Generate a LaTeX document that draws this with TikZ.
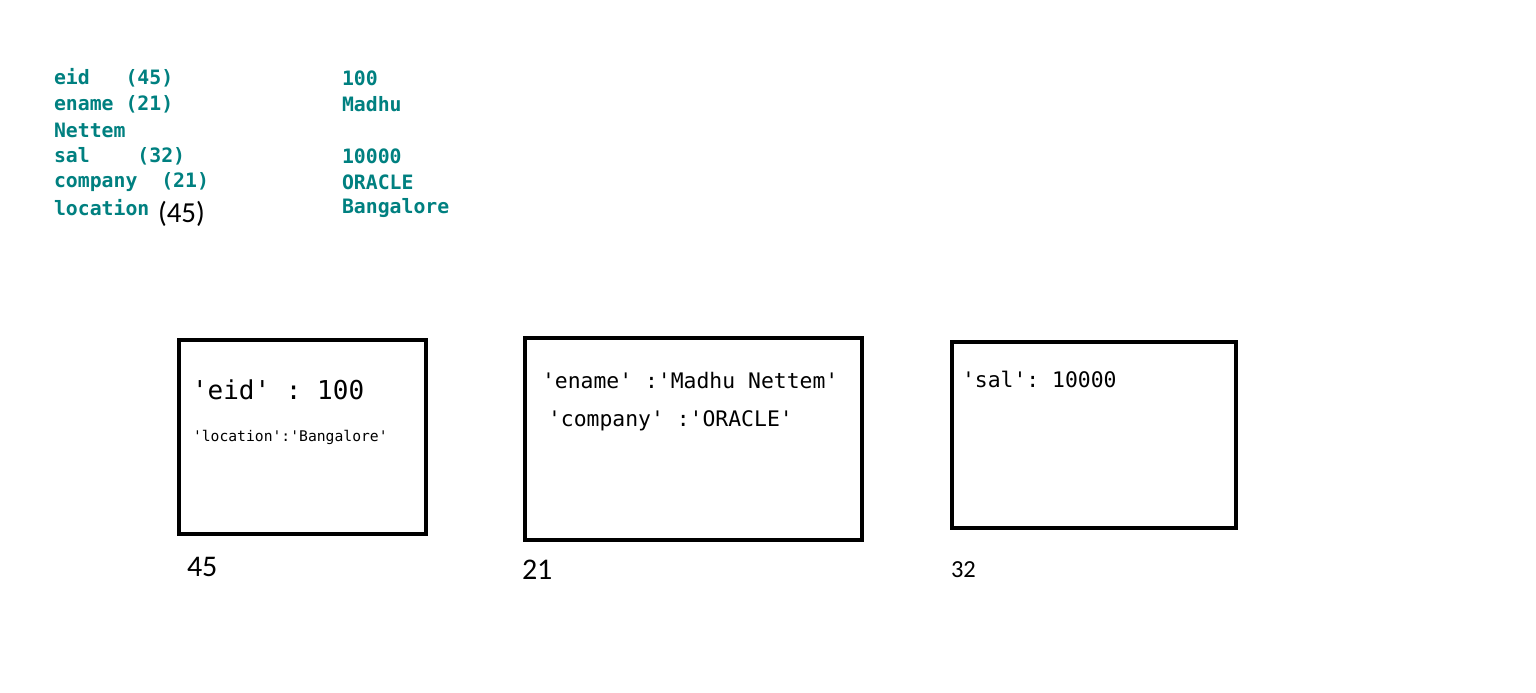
\documentclass[tikz,border=0pt]{standalone}
\usepackage{fontspec}
\setmonofont{DejaVu Sans Mono}
\newfontfamily\labfont{Carlito}
\definecolor{tealtext}{RGB}{0,128,128}
\tikzset{
  every node/.style={inner sep=0pt, outer sep=0pt},
  teal/.style={anchor=west, text=tealtext, font=\ttfamily\bfseries\fontsize{19.8}{22}\selectfont},
  memory/.style={draw=black, line width=4.6pt, anchor=north west},
  boxtext/.style={anchor=west, font=\ttfamily\fontsize{21.4}{24}\selectfont},
  lab/.style={anchor=west, font=\labfont\fontsize{30}{32}\selectfont},
}
\begin{document}
\begin{tikzpicture}[x=1pt,y=-1pt]
\useasboundingbox (0,0) rectangle (1536,693);
% left listing
\node[teal] (k1) at (54,78) {eid\ \ \ (45)};
\node[teal] (k2) at (54,104) {ename (21)};
\node[teal] (k3) at (54,130) {Nettem};
\node[teal] (k4) at (54,156) {sal\ \ \ \ (32)};
\node[teal] (k5) at (54,182) {company\ \ (21)};
\node[teal] (k6) at (54,208) {location};
\node[lab, font=\labfont\fontsize{29}{32}\selectfont] (k6b) at (158,214) {(45)};
\node[teal] (v1) at (342,78) {100};
\node[teal] (v2) at (342,104) {Madhu};
\node[teal] (v4) at (342,156) {10000};
\node[teal] (v5) at (342,182) {ORACLE};
\node[teal] (v6) at (342,208) {Bangalore};
% boxes
\node[memory, minimum width=247pt, minimum height=194pt] (b1) at (179,340) {};
\node[memory, minimum width=337pt, minimum height=202pt] (b2) at (525,338) {};
\node[memory, minimum width=284pt, minimum height=186pt] (b3) at (952,342) {};
% box texts
\node[boxtext, font=\ttfamily\fontsize{26}{28}\selectfont] (t1) at (192,390) {'eid' : 100};
\node[boxtext, font=\ttfamily\fontsize{14.7}{16}\selectfont] (t2) at (193,437) {'location':'Bangalore'};
\node[boxtext] (t3) at (542,381) {'ename' :'Madhu Nettem'};
\node[boxtext] (t4) at (548,421) {'company' :'ORACLE'};
\node[boxtext] (t5) at (962,379) {'sal': 10000};
% addresses
\node[lab] (a1) at (187,567) {45};
\node[lab] (a2) at (522,570) {21};
\node[lab, font=\labfont\fontsize{24.5}{26}\selectfont] (a3) at (951,570) {32};
\end{tikzpicture}
\end{document}
